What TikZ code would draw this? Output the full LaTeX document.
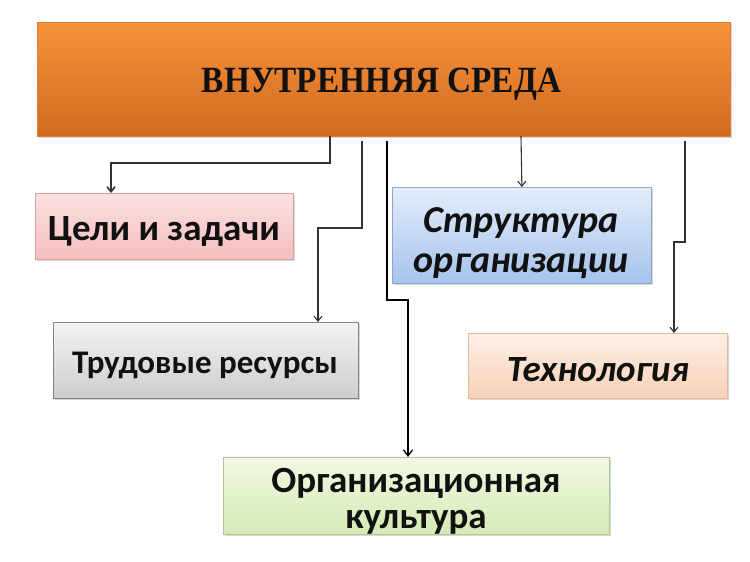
\documentclass[tikz,border=0pt]{standalone}
\usepackage{fontspec}
\setmainfont{Carlito}
\newfontfamily\titlefont{Liberation Serif}
\usetikzlibrary{arrows.meta,shadows}
\definecolor{ink}{HTML}{111111}
\definecolor{lineg}{HTML}{333333}
\definecolor{topD}{HTML}{E07D32}
\definecolor{topT}{HTML}{F7923A}
\definecolor{topB}{HTML}{D16A21}
\definecolor{celD}{HTML}{D6A0A0}
\definecolor{celT}{HTML}{FCE0E0}
\definecolor{celB}{HTML}{F5BEBE}
\definecolor{trudD}{HTML}{828282}
\definecolor{trudT}{HTML}{F3F3F3}
\definecolor{trudB}{HTML}{CDCDCD}
\definecolor{strD}{HTML}{8CA5CD}
\definecolor{strT}{HTML}{E4EDFB}
\definecolor{strB}{HTML}{A6C2EC}
\definecolor{techD}{HTML}{DEB9A0}
\definecolor{techT}{HTML}{FDF0E7}
\definecolor{techB}{HTML}{F8D0B6}
\definecolor{orgD}{HTML}{AFC891}
\definecolor{orgT}{HTML}{F2F9E4}
\definecolor{orgB}{HTML}{D4EAB4}
\begin{document}
\begin{tikzpicture}[x=1pt,y=-1pt,
  box/.style={draw=#1, line width=0.8pt, anchor=north west, inner sep=0pt,
    drop shadow={opacity=0.3,shadow xshift=1.5pt,shadow yshift=-1.5pt}},
  lbl/.style={text=ink, align=center, anchor=base, inner sep=0pt},
  conn/.style={draw=lineg, line width=1.1pt, -{Straight Barb[length=5pt,width=8pt]}},
  heavy conn/.style={conn, line width=1.6pt},
  thick conn/.style={draw=black, line width=2.8pt, -{Straight Barb[length=6pt,width=9pt,line width=1.3pt]}}]
\useasboundingbox (0,0) rectangle (750,562);
\fill[white] (0,0) rectangle (750,562);

\node[box=topD, top color=topT, bottom color=topB,
  minimum width=693pt, minimum height=114pt] (top) at (37,22) {};
\node[lbl, font=\titlefont\bfseries\fontsize{37}{42}\selectfont] (title) at (381.5,92)
  {\scalebox{0.9}[1]{ВНУТРЕННЯЯ СРЕДА}};

\node[box=celD, top color=celT, bottom color=celB,
  minimum width=258pt, minimum height=66pt] (cel) at (35,193) {};
\node[lbl, font=\bfseries\fontsize{37}{42}\selectfont] (celt) at (164,240) {Цели и задачи};

\node[box=trudD, top color=trudT, bottom color=trudB,
  minimum width=305pt, minimum height=76pt] (trud) at (53,322) {};
\node[lbl, font=\bfseries\fontsize{33}{38}\selectfont] (trudt) at (205,373) {Трудовые ресурсы};

\node[box=strD, top color=strT, bottom color=strB,
  minimum width=259pt, minimum height=96pt] (str) at (392,187) {};
\node[lbl, font=\bfseries\itshape\fontsize{38}{44}\selectfont] (strt) at (521,272) {Структура\\[-4pt]организации};

\node[box=techD, top color=techT, bottom color=techB,
  minimum width=259pt, minimum height=65pt] (tech) at (468,333) {};
\node[lbl, font=\bfseries\itshape\fontsize{37}{42}\selectfont] (techt) at (598,381) {Технология};

\node[box=orgD, top color=orgT, bottom color=orgB,
  minimum width=386pt, minimum height=77pt] (org) at (223,457) {};
\node[lbl, font=\bfseries\fontsize{37}{43}\selectfont] (orgt) at (416,528) {Организационная\\[-7pt]культура};

\coordinate (s1) at (330,136);
\coordinate (s2) at (362,141);
\coordinate (s3) at (387,141);
\coordinate (s4) at (521,136);
\coordinate (s5) at (685,141);

\draw[heavy conn] (s1) -- ++(0,27) -| ([xshift=76pt]cel.north west);
\draw[conn] (s2) -- ++(0,87) -| ([xshift=265pt]trud.north west);
\draw[thick conn] (s3) -- ++(0,159) -| ([xshift=185pt]org.north west);
\draw[conn] (s4) -- (str.north);
\draw[conn] (s5) -- ++(0,101) -| ([xshift=206pt]tech.north west);
\end{tikzpicture}
\end{document}
